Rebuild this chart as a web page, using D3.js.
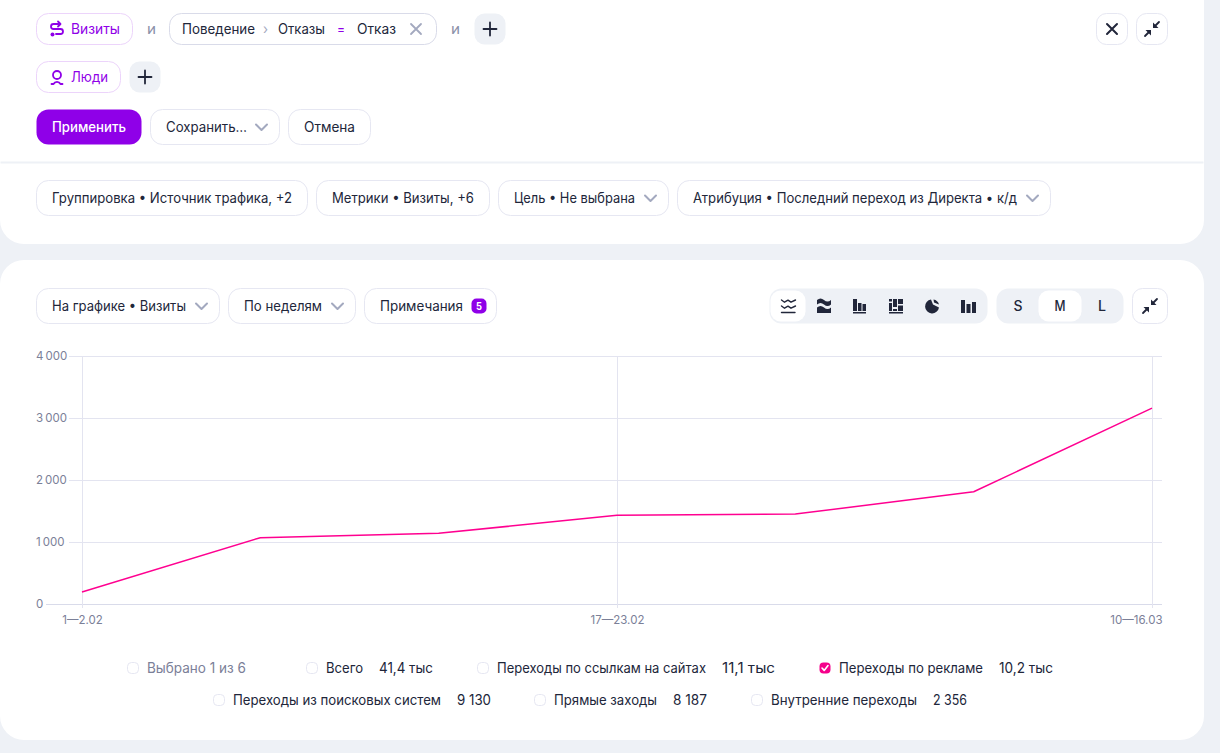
<!DOCTYPE html>
<html lang="ru">
<head>
<meta charset="utf-8">
<title>Визиты</title>
<script src="https://cdn.jsdelivr.net/npm/d3@7"></script>
<style>
html, body { margin: 0; padding: 0; background: #eef1f6; }
svg { display: block; }
text { font-family: Inter, "Noto Sans", sans-serif; font-size: 14px; fill: #21263a; }
</style>
</head>
<body>
<svg id="page" width="1220" height="753"></svg>
<script>
// chart values
var weeks = ["1—2.02", "3—9.02", "10—16.02", "17—23.02", "24.02—2.03", "3—9.03", "10—16.03"];
var adVisits = [195, 1070, 1140, 1430, 1450, 1810, 3160];
var yTicks = [0, 1000, 2000, 3000, 4000];
var xTicks = ["1—2.02", "17—23.02", "10—16.03"];

var legendNames = ["Всего", "Переходы по ссылкам на сайтах", "Переходы по рекламе", "Переходы из поисковых систем", "Прямые заходы", "Внутренние переходы"];
var legendValues = ["41,4 тыс", "11,1 тыс", "10,2 тыс", "9 130", "8 187", "2 356"];
var legendChecked = [false, false, true, false, false, false];

var PURPLE = "#8f00e8";
var BORDER = "#e6e7f2";
var GREY_BG = "#eef1f6";
var DARK = "#21263a";
var PINK = "#ff0090";

var svg = d3.select("#page");
var ui = svg.append("g");

function rect(x, y, w, h, r, fill, stroke) {
    return ui.append("rect")
        .attr("x", x + 0.5).attr("y", y + 0.5)
        .attr("width", w - 1).attr("height", h - 1)
        .attr("rx", r)
        .attr("fill", fill || "#fff")
        .attr("stroke", stroke || "none");
}

// width is the measured width in the picture, the fonts differ a bit
function label(x, y, str, width, color, size, weight) {
    var t = ui.append("text")
        .attr("x", x).attr("y", y - 0.8)
        .attr("dominant-baseline", "central")
        .style("fill", color || DARK)
        .text(str);
    if (size) t.style("font-size", size + "px");
    if (weight) t.style("font-weight", weight);
    if (width) t.attr("textLength", width).attr("lengthAdjust", "spacingAndGlyphs");
    return t;
}

function icon(d, color, w) {
    return ui.append("path")
        .attr("d", d)
        .attr("fill", "none")
        .attr("stroke", color || DARK)
        .attr("stroke-width", w || 2)
        .attr("stroke-linecap", "round")
        .attr("stroke-linejoin", "round");
}

function solid(d) {
    return ui.append("path").attr("d", d).attr("fill", DARK);
}

function chevron(cx, cy) {
    icon("M" + (cx - 5.5) + " " + (cy - 2.5) + "L" + cx + " " + (cy + 3) + "L" + (cx + 5.5) + " " + (cy - 2.5), "#a3a9bf", 2);
}

function plus(cx, cy) {
    icon("M" + (cx - 6.5) + " " + cy + "H" + (cx + 6.5) + "M" + cx + " " + (cy - 6.5) + "V" + (cy + 6.5), DARK, 1.8);
}

function collapse(cx, cy) {
    icon("M" + (cx + 7) + " " + (cy - 7) + "L" + (cx + 3) + " " + (cy - 3) + "M" + (cx - 7) + " " + (cy + 7) + "L" + (cx - 3) + " " + (cy + 3), DARK, 1.8);
    solid("M" + (cx + 1) + " " + (cy - 6.5) + "V" + (cy - 1) + "H" + (cx + 6.5) + "Z");
    solid("M" + (cx - 1) + " " + (cy + 6.5) + "V" + (cy + 1) + "H" + (cx - 6.5) + "Z");
}

function chip(x, y, w, str, textW) {
    rect(x, y, w, 36, 12, "#fff", BORDER);
    label(x + 16, y + 18, str, textW);
}

// panels
ui.append("path").attr("fill", "#fff")
    .attr("d", "M0 0H1204V220A24 24 0 0 1 1180 244H24A24 24 0 0 1 0 220Z");
rect(0, 161, 1204, 3, 0, GREY_BG);
ui.append("rect").attr("x", 0).attr("y", 260).attr("width", 1204).attr("height", 480).attr("rx", 24).attr("fill", "#fff");

// filter row
rect(36, 13, 97, 32, 12, "#fff", "#ecd4fb");
icon("M60 24H53.5A2.5 2.5 0 0 0 53.5 29H60.5A2.5 2.5 0 0 1 60.5 34H56", PURPLE, 1.8);
icon("M58 21.5L60.5 24L58 26.5", PURPLE, 1.8);
ui.append("circle").attr("cx", 52.5).attr("cy", 34.5).attr("r", 2).attr("fill", PURPLE);
label(71, 29, "Визиты", 49, PURPLE);
label(147, 29, "и", 9, "#8a90a8");
rect(169, 13, 268, 32, 12, "#fff", "#d9dbe9");
label(182, 29, "Поведение", 73);
label(263, 29, "›", 5, "#a3a9bf");
label(278, 29, "Отказы", 47);
label(337, 29, "=", 8, PURPLE);
label(357, 29, "Отказ", 39);
icon("M411 24L421 34M421 24L411 34", "#a3a9bf", 1.8);
label(451, 29, "и", 9, "#8a90a8");
rect(474, 13, 32, 32, 10, GREY_BG);
plus(490, 29);

rect(1096, 13, 32, 32, 10, "#fff", BORDER);
icon("M1107 24L1117 34M1117 24L1107 34", DARK, 2);
rect(1136, 13, 32, 32, 10, "#fff", BORDER);
collapse(1152, 29);

// people row
rect(36, 61, 85, 32, 12, "#fff", "#ecd4fb");
ui.append("circle").attr("cx", 57).attr("cy", 75).attr("r", 4).attr("fill", "none").attr("stroke", PURPLE).attr("stroke-width", 1.8);
icon("M51.5 84H53.5A4 4 0 0 1 60.5 84H62.5", PURPLE, 1.8);
label(71, 77, "Люди", 37, PURPLE);
rect(129, 61, 32, 32, 10, GREY_BG);
plus(145, 77);

// action row
rect(36, 109, 106, 36, 12, PURPLE);
label(52, 127, "Применить", 74, "#fff", 14, 500);
rect(150, 109, 130, 36, 12, "#fff", BORDER);
label(166, 127, "Сохранить…", 81);
chevron(261.5, 127);
chip(288, 109, 83, "Отмена", 51);

// report settings row
chip(36, 180, 272, "Группировка • Источник трафика, +2", 240);
chip(316, 180, 174, "Метрики • Визиты, +6", 142);
chip(498, 180, 171, "Цель • Не выбрана", 121);
chevron(650.5, 198);
chip(677, 180, 374, "Атрибуция • Последний переход из Директа • к/д", 324);
chevron(1032.5, 198);

// chart toolbar
chip(36, 288, 184, "На графике • Визиты", 134);
chevron(201.5, 306);
chip(228, 288, 128, "По неделям", 78);
chevron(337.5, 306);
chip(364, 288, 133, "Примечания", 83);
rect(471, 298, 16, 16, 5, PURPLE);
label(476, 306.8, "5", 6, "#fff", 10, 700);

// chart type switcher
rect(769, 288, 219, 36, 12, GREY_BG);
rect(770, 290, 36, 32, 10, "#fff");

var zigzag = "l3 2.2 3.5 -2 3 2 4.5 -2.2";
icon("M781.5 300" + zigzag + "M781.5 306" + zigzag + "M781.5 312.5H795", DARK, 1.4);
solid("M817 300q3.5 -3 7 0t7 0v4.5q-3.5 3 -7 0t-7 0ZM817 307.5q3.5 -3 7 0t7 0v5.5h-14Z");
solid("M853 299h4v12h-4ZM858 303h3.5v8h-3.5ZM862.5 304h3.5v7h-3.5ZM853 312h13v1.5h-13Z");
solid("M889 299h3v2.5h-3ZM889 303h3v8h-3ZM893 299h4v8h-4ZM893 309h4v2h-4ZM898 299h5v5h-5ZM898 305.5h5v5.5h-5ZM889 312h14v1.5h-14Z");
solid("M931 299.5A7 7 0 1 0 939 307.5L933 304.5ZM933.5 299.5A7 7 0 0 1 939 304.5L934 302.5Z");
solid("M961 300h4v13h-4ZM966.5 304h4v9h-4ZM972 302h4v11h-4Z");

// size switcher
rect(996, 288, 128, 36, 12, GREY_BG);
rect(1038, 290, 44, 32, 10, "#fff");
label(1013.5, 306, "S", 9, DARK, 14, 500);
label(1054.5, 306, "M", 11, DARK, 14, 500);
label(1098, 306, "L", 8, DARK, 14, 500);
rect(1132, 288, 36, 36, 10, "#fff", BORDER);
collapse(1150, 306);

// chart
var plotLeft = 82, plotRight = 1152, gridRight = 1162, plotTop = 356, plotBottom = 604;

var x = d3.scalePoint().domain(weeks).range([plotLeft, plotRight]);
var y = d3.scaleLinear().domain([0, 4000]).range([plotBottom, plotTop]);
var ruFormat = d3.formatLocale({decimal: ",", thousands: "\u2009", grouping: [3], currency: ["", ""]}).format(",d");

var chart = svg.append("g");

var yAxis = chart.append("g")
    .attr("transform", "translate(" + gridRight + ",0)")
    .call(d3.axisLeft(y).tickValues(yTicks).tickFormat(ruFormat).tickSize(gridRight - 69));
yAxis.select(".domain").remove();
yAxis.selectAll("line").attr("stroke", "#e3e4f0");
yAxis.selectAll(".tick").filter(function(d) { return d === 0; }).select("line")
    .attr("x2", 46 - gridRight).attr("stroke", "#d9dbea");
yAxis.selectAll("text")
    .attr("x", 36 - gridRight)
    .attr("dy", "0.32em")
    .attr("text-anchor", "start")
    .style("font-size", "11.5px")
    .style("fill", "#7b8098");

var xAxis = chart.append("g")
    .attr("transform", "translate(0," + plotBottom + ")")
    .call(d3.axisBottom(x).tickValues(xTicks).tickSizeInner(4).tickSizeOuter(0));
xAxis.select(".domain").remove();
xAxis.selectAll("line")
    .attr("y1", plotTop - plotBottom)
    .attr("stroke", "#e3e4f0");
xAxis.selectAll("text")
    .attr("y", 16)
    .attr("dy", "0.32em")
    .style("font-size", "11.5px")
    .style("fill", "#7b8098");
xAxis.selectAll(".tick").filter(function(d) { return d === weeks[weeks.length - 1]; }).select("text")
    .attr("text-anchor", "end")
    .attr("x", gridRight - plotRight);

var line = d3.line()
    .x(function(d, i) { return x(weeks[i]); })
    .y(function(d) { return y(d); });

chart.append("path")
    .datum(adVisits)
    .attr("d", line)
    .attr("fill", "none")
    .attr("stroke", PINK)
    .attr("stroke-width", 1.5)
    .attr("stroke-linejoin", "round");

// legend, laid out by hand in the two centered rows of the original
function checkbox(bx, cy, checked) {
    if (checked) {
        rect(bx, cy - 6, 12, 12, 4, "#f5008b");
        icon("M" + (bx + 3) + " " + cy + "L" + (bx + 5.2) + " " + (cy + 2.4) + "L" + (bx + 9) + " " + (cy - 2.4), "#fff", 1.6);
    } else {
        rect(bx, cy - 6, 12, 12, 4, "#fff", BORDER);
    }
}

checkbox(127, 668, false);
label(147, 668, "Выбрано 1 из 6", 99, "#7b8098");

var legendRows = [668, 668, 668, 700, 700, 700];
var legendBox = [306, 477, 819, 213, 534, 751];
var legendNameW = [37, 209, 144, 208, 103, 146];
var legendValueX = [379, 722, 999, 457, 673, 933];
var legendValueW = [54, 53, 54, 34, 34, 34];

legendNames.forEach(function(name, i) {
    checkbox(legendBox[i], legendRows[i], legendChecked[i]);
    label(legendBox[i] + 20, legendRows[i], name, legendNameW[i]);
    label(legendValueX[i], legendRows[i], legendValues[i], legendValueW[i]);
});
</script>
</body>
</html>
